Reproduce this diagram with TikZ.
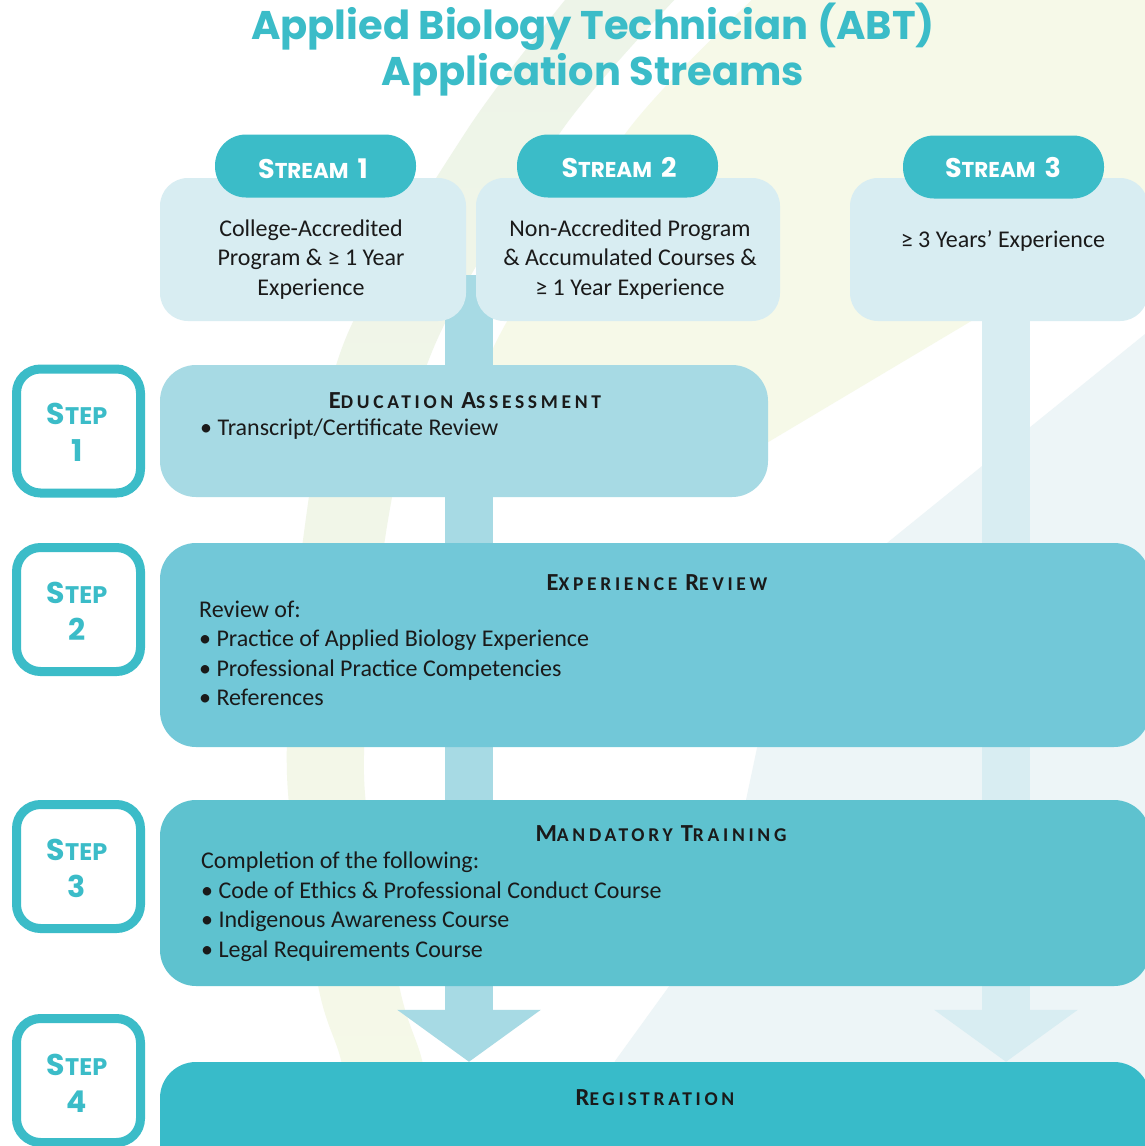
\documentclass[tikz,border=0pt]{standalone}
\usepackage{fontspec}
\setmainfont{Carlito}
\newfontfamily\popf{Poppins}
\usetikzlibrary{arrows.meta}
\pgfdeclarelayer{back}
\pgfdeclarelayer{mid}
\pgfsetlayers{back,mid,main}
\definecolor{tealc}{HTML}{3BBCC8}
\definecolor{streambg}{HTML}{D8EDF2}
\definecolor{stepA}{HTML}{A7DAE4}
\definecolor{stepB}{HTML}{72C8D8}
\definecolor{stepC}{HTML}{5EC2CF}
\definecolor{stepD}{HTML}{38BBC9}
\definecolor{bggreen}{HTML}{EDF4E8}
\definecolor{bgyellow}{HTML}{F6F9E8}
\definecolor{bgblue}{HTML}{EDF5F7}
\definecolor{txt}{HTML}{1A1A1A}
\newcommand\hbig{\fontsize{27}{27}\selectfont}
\newcommand\hsml{\fontsize{21.5}{21.5}\selectfont}
\newcommand\sbig{\fontsize{30}{30}\selectfont}
\newcommand\ssml{\fontsize{24}{24}\selectfont}
\newcommand\tbig{\fontsize{24.5}{24.5}\selectfont}
\newcommand\tsml{\fontsize{19.5}{19.5}\selectfont}
\newcommand\tgap{\hspace{8pt}}
\begin{document}
\begin{tikzpicture}[x=1pt,y=-1pt,
  streambox/.style={rectangle, fill=streambg, rounded corners=28pt, inner sep=0pt, minimum height=143pt},
  pill/.style={rectangle, fill=tealc, rounded corners=31pt, inner sep=0pt, minimum width=201pt, minimum height=63pt},
  stepbox/.style={rectangle, draw=tealc, line width=9pt, fill=white, rounded corners=24pt, inner sep=0pt, minimum width=124pt, minimum height=124pt},
  content/.style={rectangle, rounded corners=36pt, inner sep=0pt},
  body/.style={font=\fontsize{24}{24}\selectfont, text=txt, inner sep=0pt},
  bodyl/.style={body, anchor=base west},
  bodyc/.style={body, anchor=base},
  stitle/.style={font=\bfseries\addfontfeature{LetterSpace=19}, text=txt, inner sep=0pt, anchor=base},
  hdrtext/.style={font=\popf\bfseries, text=white, inner sep=0pt, anchor=base},
  steplbl/.style={font=\popf\bfseries, text=tealc, inner sep=0pt, anchor=base},
  titlest/.style={font=\popf\bfseries\fontsize{40}{40}\selectfont, text=tealc, inner sep=0pt, anchor=base},
  bar/.style={draw=#1, line width=48pt, -{Triangle[width=141pt,length=52pt]}}
]
\useasboundingbox (0,0) rectangle (1144,1146);

% background swooshes
\begin{pgfonlayer}{back}
\fill[white] (0,0) rectangle (1144,1146);
\fill[bgyellow] plot[smooth] coordinates {(757,-5) (628,130) (497,340) (470,440)} -- (560,470) -- (760,447) -- (973,320) -- (1150,214) -- (1150,-5) -- cycle;
\shade[top color=bggreen, bottom color=bgyellow] plot[smooth] coordinates {(569,-5) (467,130) (345,340) (303,540) (287,775) (318,985) (341,1060) (358,1150)} -- plot[smooth] coordinates {(440,1150) (422,1060) (399,985) (364,775) (388,520) (437,340) (562,130) (679,-5)} -- cycle;
\fill[bgblue] (1150,330) -- (887,543) -- (757,748) -- (746,800) -- (670,985) -- (615,1061) -- (590,1150) -- (1150,1150) -- cycle;
\end{pgfonlayer}

% title
\node[titlest] (t1) at (593,39) {Applied Biology Technician (ABT)};
\node[titlest] (t2) at (593,85) {Application Streams};

% stream boxes
\node[streambox, minimum width=306pt] (s1) at (313,249.5) {};
\node[streambox, minimum width=304pt] (s2) at (628,249.5) {};
\node[streambox, minimum width=298pt] (s3) at (999,249.5) {};
\node[pill] (h1) at (315.5,166) {};
\node[pill] (h2) at (617.5,166) {};
\node[pill] (h3) at (1003.5,167) {};
\node[hdrtext] (h1t) at (313,178) {{\hbig S}{\hsml TREAM}\hspace{9pt}{\hbig 1}};
\node[hdrtext] (h2t) at (619,177) {{\hbig S}{\hsml TREAM}\hspace{9pt}{\hbig 2}};
\node[hdrtext] (h3t) at (1003,177) {{\hbig S}{\hsml TREAM}\hspace{9pt}{\hbig 3}};

\node[bodyc] (s1a) at (311,236) {College-Accredited};
\node[bodyc] (s1b) at (311,265) {Program \& ≥ 1 Year};
\node[bodyc] (s1c) at (311,295) {Experience};
\node[bodyc] (s2a) at (630,236) {Non-Accredited Program};
\node[bodyc] (s2b) at (630,265) {\& Accumulated Courses \&};
\node[bodyc] (s2c) at (630,295) {≥ 1 Year Experience};
\node[bodyc] (s3a) at (1003,247) {≥ 3 Years’ Experience};

% step label boxes
\node[stepbox] (st1) at (78.5,431) {};
\node[stepbox] (st2) at (78.5,609.5) {};
\node[stepbox] (st3) at (78.5,866.5) {};
\node[stepbox] (st4) at (78.5,1080.5) {};
\node[steplbl] (st1a) at (77,424) {{\sbig S}{\ssml TEP}};
\node[steplbl] (st1b) at (77,461) {{\sbig 1}};
\node[steplbl] (st2a) at (77,603) {{\sbig S}{\ssml TEP}};
\node[steplbl] (st2b) at (77,640) {{\sbig 2}};
\node[steplbl] (st3a) at (77,860) {{\sbig S}{\ssml TEP}};
\node[steplbl] (st3b) at (77,897) {{\sbig 3}};
\node[steplbl] (st4a) at (77,1075) {{\sbig S}{\ssml TEP}};
\node[steplbl] (st4b) at (77,1112) {{\sbig 4}};

% step content boxes
\node[content, fill=stepA, minimum width=608pt, minimum height=132pt] (ea) at (464,431) {};
\node[content, fill=stepB, minimum width=990pt, minimum height=204pt] (er) at (655,645) {};
\node[content, fill=stepC, minimum width=990pt, minimum height=186pt] (mt) at (655,893) {};
\node[content, fill=stepD, minimum width=990pt, minimum height=140pt] (reg) at (655,1132) {};

\node[stitle] (eat) at (465,408) {{\tbig E}{\tsml DUCATION}\tgap{\tbig A}{\tsml SSESSMENT}};
\node[bodyl] (ea1) at (200,435) {• Transcript/Certificate Review};

\node[stitle] (ert) at (657,590) {{\tbig E}{\tsml XPERIENCE}\tgap{\tbig R}{\tsml EVIEW}};
\node[bodyl] (er0) at (199,617) {Review of:};
\node[bodyl] (er1) at (199,646.5) {• Practice of Applied Biology Experience};
\node[bodyl] (er2) at (199,676) {• Professional Practice Competencies};
\node[bodyl] (er3) at (199,705.5) {• References};

\node[stitle] (mtt) at (661,841) {{\tbig M}{\tsml ANDATORY}\tgap{\tbig T}{\tsml RAINING}};
\node[bodyl] (mt0) at (201,868) {Completion of the following:};
\node[bodyl] (mt1) at (201,898) {• Code of Ethics \& Professional Conduct Course};
\node[bodyl] (mt2) at (201,927) {• Indigenous Awareness Course};
\node[bodyl] (mt3) at (201,957) {• Legal Requirements Course};

\node[stitle] (regt) at (655,1105) {{\tbig R}{\tsml EGISTRATION}};

% connectors
\coordinate (barA) at (469,275);
\coordinate (barB) at (1006,300);
\begin{pgfonlayer}{mid}
\draw[bar=stepA] (barA) -- (reg.north -| barA);
\draw[bar=streambg] (barB) -- (reg.north -| barB);
\end{pgfonlayer}
\end{tikzpicture}
\end{document}
